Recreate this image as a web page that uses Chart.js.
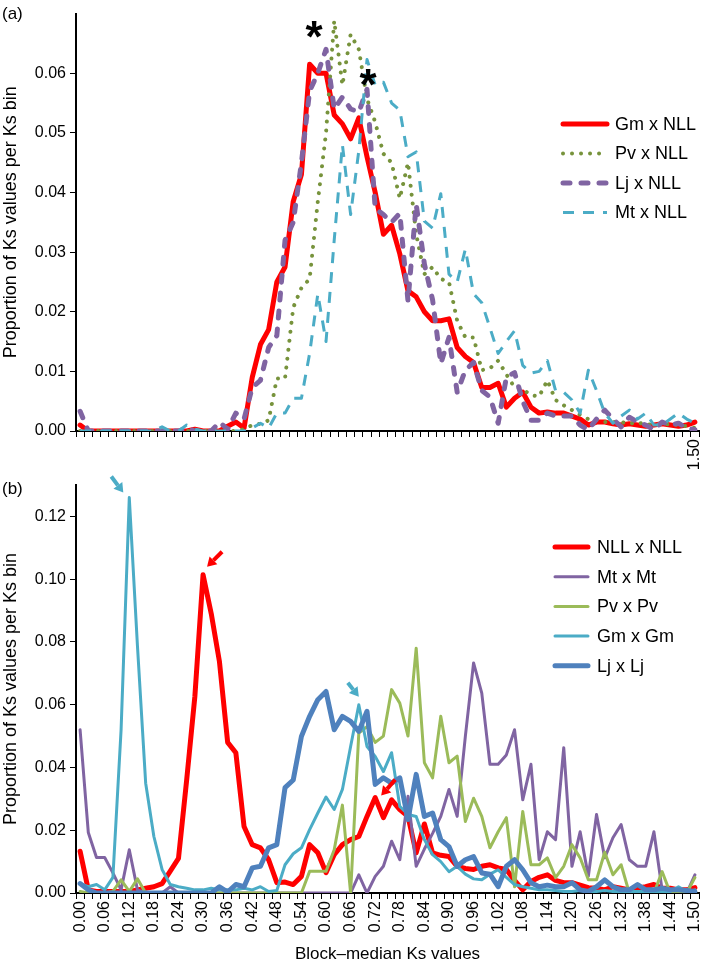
<!DOCTYPE html>
<html>
<head>
<meta charset="utf-8">
<title>Ks distributions</title>
<script src="https://cdn.jsdelivr.net/npm/chart.js@4.4.1/dist/chart.umd.min.js"></script>
<style>
  html, body { margin: 0; padding: 0; background: #fff; }
  #wrap { position: relative; width: 709px; height: 971px; }
  #boxA { position: absolute; left: 0; top: 0; width: 709px; height: 478px; }
  #boxB { position: absolute; left: 0; top: 470px; width: 709px; height: 501px; }
</style>
</head>
<body>
<div id="wrap">
  <div id="boxA"><canvas id="chartA"></canvas></div>
  <div id="boxB"><canvas id="chartB"></canvas></div>
</div>
<script>
// Ks bins (0.00 .. 1.50, step 0.02)
const bins = [
  "0.00","0.02","0.04","0.06","0.08","0.10","0.12","0.14","0.16","0.18",
  "0.20","0.22","0.24","0.26","0.28","0.30","0.32","0.34","0.36","0.38",
  "0.40","0.42","0.44","0.46","0.48","0.50","0.52","0.54","0.56","0.58",
  "0.60","0.62","0.64","0.66","0.68","0.70","0.72","0.74","0.76","0.78",
  "0.80","0.82","0.84","0.86","0.88","0.90","0.92","0.94","0.96","0.98",
  "1.00","1.02","1.04","1.06","1.08","1.10","1.12","1.14","1.16","1.18",
  "1.20","1.22","1.24","1.26","1.28","1.30","1.32","1.34","1.36","1.38",
  "1.40","1.42","1.44","1.46","1.48","1.50"
];

// panel (a): legume x NLL
const gmNLL = [
  0.001, 0, 0, 0, 0, 0, 0, 0, 0, 0,
  0, 0, 0, 0, 0.0003, 0, 0, 0, 0.0008, 0.0015,
  0.0005, 0.009, 0.0145, 0.017, 0.025, 0.0275, 0.0385, 0.043, 0.0615, 0.060,
  0.060, 0.053, 0.0515, 0.049, 0.0525, 0.046, 0.040, 0.033, 0.0345, 0.0297,
  0.0235, 0.0225, 0.020, 0.0185, 0.0185, 0.0188, 0.014, 0.0125, 0.0115, 0.0073,
  0.0073, 0.008, 0.004, 0.0055, 0.0065, 0.004, 0.003, 0.0032, 0.003, 0.003,
  0.0025, 0.002, 0.001, 0.0015, 0.0015, 0.0012, 0.001, 0.0012, 0.001, 0.0008,
  0.001, 0.0012, 0.001, 0.0008, 0.001, 0.0015
];
const pvNLL = [
  0, 0, 0, 0, 0, 0, 0, 0, 0, 0,
  0, 0, 0, 0, 0, 0, 0, 0, 0, 0,
  0.0003, 0.001, 0.0012, 0.0018, 0.0088, 0.0088, 0.0207, 0.024, 0.0255, 0.0385,
  0.050, 0.0688, 0.058, 0.0665, 0.064, 0.0557, 0.0518, 0.0465, 0.045, 0.039,
  0.045, 0.033, 0.0263, 0.0275, 0.0255, 0.025, 0.0185, 0.0157, 0.0157, 0.0102,
  0.0105, 0.0118, 0.0095, 0.0073, 0.007, 0.006, 0.0058, 0.0085, 0.0052, 0.0043,
  0.0035, 0.0027, 0.002, 0.0018, 0.0015, 0.0015, 0.0015, 0.0012, 0.0015, 0.001,
  0.0012, 0.001, 0.0012, 0.001, 0.0008, 0.0005
];
const ljNLL = [
  0.0033, 0, 0, 0, 0, 0, 0, 0, 0, 0,
  0, 0, 0, 0.0005, 0, 0, 0, 0.0015, 0.0003, 0.003,
  0.002, 0.0073, 0.0085, 0.014, 0.016, 0.032, 0.035, 0.045, 0.057, 0.060,
  0.064, 0.054, 0.056, 0.054, 0.0535, 0.0573, 0.0373, 0.0363, 0.035, 0.0365,
  0.0218, 0.038, 0.028, 0.022, 0.0113, 0.0157, 0.0065, 0.0102, 0.0115, 0.0068,
  0.0057, 0.0013, 0.009, 0.0098, 0.005, 0.0018, 0.0018, 0.003, 0.0025, 0.0025,
  0.0025, 0.001, 0.0002, 0.002, 0.0035, 0.002, 0.0007, 0.0023, 0.0015, 0.001,
  0.0002, 0.0015, 0.001, 0.0013, 0.0005, 0.0002
];
const mtNLL = [
  0, 0, 0, 0, 0, 0, 0, 0, 0, 0,
  0.0007, 0, 0, 0.001, 0.0003, 0, 0, 0, 0, 0,
  0, 0.0005, 0.0013, 0.0005, 0.003, 0.003, 0.0055, 0.0055, 0.013, 0.023,
  0.015, 0.032, 0.048, 0.0363, 0.047, 0.0623, 0.058, 0.0585, 0.055, 0.0538,
  0.046, 0.0468, 0.0352, 0.034, 0.0398, 0.0263, 0.025, 0.0305, 0.023, 0.0215,
  0.0173, 0.013, 0.015, 0.0168, 0.011, 0.0097, 0.010, 0.0118, 0.0068, 0.0065,
  0.0052, 0.003, 0.0102, 0.0068, 0.003, 0.0013, 0.0025, 0.0035, 0.002, 0.003,
  0.001, 0.001, 0.002, 0.003, 0.002, 0.0013
];

// panel (b): within-genome
const nllNLL = [
  0.0133, 0.001, 0.0005, 0.0005, 0.0005, 0.0005, 0.0005, 0.001, 0.0015, 0.002,
  0.003, 0.007, 0.011, 0.036, 0.0626, 0.1014, 0.089, 0.0737, 0.048, 0.0447,
  0.0212, 0.0154, 0.0144, 0.0106, 0.0033, 0.0035, 0.0027, 0.0053, 0.0154, 0.0128,
  0.0065, 0.0122, 0.0154, 0.017, 0.018, 0.0244, 0.0304, 0.024, 0.0297, 0.0266,
  0.0244, 0.0128, 0.022, 0.0128, 0.012, 0.0116, 0.0085, 0.0078, 0.0075, 0.0085,
  0.009, 0.008, 0.0075, 0.004, 0.001, 0.0037, 0.005, 0.0058, 0.004, 0.0033,
  0.0033, 0.0025, 0.0017, 0.0015, 0.001, 0.002, 0.0015, 0.001, 0.0015, 0.002,
  0.0027, 0.0015, 0.0015, 0.001, 0.001, 0.0017
];
const mtMt = [
  0.052, 0.0193, 0.0113, 0.0113, 0.0064, 0.001, 0.0138, 0.001, 0, 0,
  0, 0.002, 0, 0, 0, 0, 0, 0, 0, 0,
  0, 0, 0, 0, 0, 0, 0, 0, 0, 0,
  0, 0, 0, 0, 0.0058, 0, 0.0053, 0.0085, 0.0165, 0.0106,
  0.0308, 0.0085, 0.014, 0.019, 0.0244, 0.033, 0.0244, 0.05, 0.0733, 0.0637,
  0.041, 0.041, 0.044, 0.052, 0.0297, 0.041, 0.0106, 0.0195, 0.017, 0.0463,
  0.0085, 0.0195, 0.0053, 0.025, 0.0112, 0.0176, 0.0218, 0.0106, 0.0085, 0.0085,
  0.0195, 0.001, 0, 0, 0, 0.0058
];
const pvPv = [
  0.0005, 0, 0, 0, 0.0005, 0.0042, 0.0005, 0.0045, 0, 0,
  0, 0, 0, 0, 0, 0, 0, 0, 0, 0,
  0, 0, 0, 0, 0, 0, 0, 0, 0.0069, 0.0069,
  0.0069, 0.0138, 0.028, 0, 0.051, 0.053, 0.048, 0.050, 0.0648, 0.0605,
  0.050, 0.078, 0.0415, 0.0367, 0.0563, 0.0415, 0.0436, 0.0228, 0.0302, 0.0244,
  0.0144, 0.0195, 0.024, 0.002, 0.026, 0.009, 0.009, 0.0112, 0.0049, 0.0085,
  0.0154, 0.0112, 0.0042, 0.0042, 0.013, 0.0058, 0.009, 0, 0.0005, 0,
  0, 0.0068, 0, 0, 0, 0.0049
];
const gmGm = [
  0.003, 0.002, 0.0027, 0.001, 0.005, 0.052, 0.126, 0.0786, 0.035, 0.018,
  0.0075, 0.0027, 0.002, 0.0015, 0.001, 0.001, 0.0015, 0.001, 0.001, 0.001,
  0.0015, 0.001, 0.002, 0.0005, 0.0008, 0.009, 0.0125, 0.0144, 0.0202, 0.0255,
  0.0306, 0.0266, 0.033, 0.0467, 0.060, 0.0467, 0.0435, 0.0387, 0.0447, 0.0276,
  0.025, 0.0244, 0.017, 0.0122, 0.010, 0.0068, 0.0085, 0.006, 0.0045, 0.0042,
  0.006, 0.0074, 0.005, 0.0027, 0.002, 0.0015, 0.001, 0.001, 0.0008, 0.0005,
  0.0005, 0.0008, 0.0005, 0.0005, 0.0008, 0.0005, 0.0005, 0.0005, 0.0005, 0.0005,
  0.0005, 0.0005, 0.0005, 0.002, 0.0005, 0.001
];
const ljLj = [
  0.003, 0.001, 0, 0, 0, 0, 0, 0, 0, 0,
  0, 0, 0, 0, 0, 0, 0, 0.002, 0.0003, 0.0027,
  0.002, 0.008, 0.0085, 0.0144, 0.0154, 0.0336, 0.036, 0.0499, 0.0563, 0.0616,
  0.0642, 0.052, 0.0563, 0.0547, 0.0515, 0.0579, 0.0346, 0.0367, 0.035, 0.0367,
  0.0234, 0.0378, 0.0244, 0.0255, 0.017, 0.0148, 0.0085, 0.0106, 0.0116, 0.0064,
  0.006, 0.002, 0.0085, 0.0106, 0.0074, 0.0033, 0.002, 0.0025, 0.002, 0.002,
  0.0033, 0.001, 0.0005, 0.002, 0.0042, 0.002, 0.001, 0.001, 0.0027, 0.001,
  0.001, 0.0015, 0.001, 0.001, 0.0008, 0.0005
];

const FONT = '"Liberation Sans", Arial, Helvetica, sans-serif';
Chart.defaults.font.family = FONT;
Chart.defaults.color = "#000";

/**
 * Legend drawn beside the lines, using each dataset's own stroke style
 */
const sideLegend = {
    id: "sideLegend",
    afterDraw(chart, args, opts) {
        const ctx = chart.ctx;
        ctx.save();
        chart.data.datasets.forEach((ds, k) => {
            const y = opts.top + k * opts.gap;
            ctx.beginPath();
            ctx.strokeStyle = ds.borderColor;
            ctx.lineWidth = ds.borderWidth;
            ctx.lineCap = ds.borderCapStyle || "butt";
            ctx.setLineDash(ds.borderDash || []);
            ctx.moveTo(opts.left, y);
            ctx.lineTo(opts.left + opts.lineLen, y);
            ctx.stroke();
            ctx.setLineDash([]);
            ctx.fillStyle = "#000";
            ctx.font = "18px " + FONT;
            ctx.textBaseline = "middle";
            ctx.fillText(ds.label, opts.left + opts.lineLen + opts.textGap, y + 1);
        });
        ctx.restore();
    }
};

/**
 * Panel letter, asterisks and arrows, anchored to data points
 */
function drawArrow(ctx, x1, y1, x2, y2, color) {
    const ang = Math.atan2(y2 - y1, x2 - x1);
    const head = 9, half = 5.5;
    const bx = x2 - head * Math.cos(ang), by = y2 - head * Math.sin(ang);
    ctx.strokeStyle = color;
    ctx.lineWidth = 4;
    ctx.beginPath();
    ctx.moveTo(x1, y1);
    ctx.lineTo(bx, by);
    ctx.stroke();
    ctx.fillStyle = color;
    ctx.beginPath();
    ctx.moveTo(x2, y2);
    ctx.lineTo(bx + half * Math.sin(ang), by - half * Math.cos(ang));
    ctx.lineTo(bx - half * Math.sin(ang), by + half * Math.cos(ang));
    ctx.closePath();
    ctx.fill();
}

const marks = {
    id: "marks",
    afterDraw(chart, args, opts) {
        const ctx = chart.ctx;
        ctx.save();
        ctx.fillStyle = "#000";
        ctx.font = "17px " + FONT;
        ctx.textBaseline = "middle";
        ctx.fillText(opts.panel, 2, opts.panelY);
        (opts.stars || []).forEach(s => {
            const p = chart.getDatasetMeta(s.ds).data[s.i];
            ctx.font = "bold 44px " + FONT;
            ctx.textAlign = "center";
            ctx.textBaseline = "alphabetic";
            ctx.fillText("*", p.x + s.dx, p.y + s.dy);
        });
        (opts.arrows || []).forEach(a => {
            const p = chart.getDatasetMeta(a.ds).data[a.i];
            const color = chart.data.datasets[a.ds].borderColor;
            drawArrow(ctx, p.x + a.tail[0], p.y + a.tail[1], p.x + a.tip[0], p.y + a.tip[1], color);
        });
        ctx.restore();
    }
};

function xAxis(height, showLabel) {
    return {
        type: "category",
        offset: true,
        grid: { display: true, offset: true, drawOnChartArea: false, drawTicks: true, tickLength: 6, color: "#000", lineWidth: 1 },
        border: { display: true, color: "#000", width: 2 },
        ticks: {
            autoSkip: false, minRotation: 90, maxRotation: 90, padding: 2,
            font: { size: 16 }, color: "#000",
            callback: function (v, i) { return showLabel(i) ? bins[i] : ""; }
        },
        afterFit: function (s) {
            s.height = height;
            s.paddingLeft = 0;
            s.paddingRight = 0;
        }
    };
}

function yAxis(max, step) {
    return {
        min: 0, max: max,
        grid: { display: true, drawOnChartArea: false, drawTicks: true, tickLength: 6, color: "#000", lineWidth: 1 },
        border: { display: true, color: "#000", width: 2 },
        ticks: { stepSize: step, padding: 4, font: { size: 16 }, color: "#000", callback: v => v.toFixed(2) },
        title: { display: true, text: "Proportion of Ks values per Ks bin", font: { size: 18 }, padding: 0, color: "#000" },
        afterBuildTicks: function (s) { s.ticks = s.ticks.filter(t => t.value < max - step / 4); },
        afterFit: function (s) { s.width = 76; }
    };
}

function line(label, data, color, width, dash, cap, order) {
    return {
        label: label, data: data, borderColor: color, backgroundColor: color,
        borderWidth: width, borderDash: dash, borderCapStyle: cap, borderJoinStyle: "round",
        pointRadius: 0, tension: 0, fill: false, order: order
    };
}

function renderTop() {
    new Chart(document.getElementById("chartA"), {
        type: "line",
        data: {
            labels: bins,
            datasets: [
                line("Gm x NLL", gmNLL, "#FF0000", 5, [], "round", 4),
                line("Pv x NLL", pvNLL, "#77933C", 4, [0.01, 9], "round", 3),
                line("Lj x NLL", ljNLL, "#8064A2", 5, [7, 11], "round", 2),
                line("Mt x NLL", mtNLL, "#4BACC6", 3, [11, 9], "butt", 1)
            ]
        },
        options: {
            responsive: true, maintainAspectRatio: false, animation: false,
            layout: { padding: { left: 0, top: 11, right: 10, bottom: 0 } },
            scales: {
                x: xAxis(47, i => i === bins.length - 1),
                y: yAxis(0.07, 0.01)
            },
            plugins: {
                legend: { display: false },
                tooltip: { enabled: false },
                sideLegend: { left: 563, top: 124, gap: 29.5, lineLen: 44, textGap: 8 },
                marks: {
                    panel: "(a)", panelY: 14,
                    stars: [ { ds: 2, i: 30, dx: -12, dy: 3 }, { ds: 2, i: 35, dx: 1, dy: 11 } ]
                }
            }
        },
        plugins: [sideLegend, marks]
    });
}

function renderBottom() {
    const xb = xAxis(78, i => i % 3 === 0);
    xb.title = { display: true, text: "Block\u2013median Ks values", font: { size: 17 }, padding: { top: 4, bottom: 6 }, color: "#000" };
    new Chart(document.getElementById("chartB"), {
        type: "line",
        data: {
            labels: bins,
            datasets: [
                line("NLL x NLL", nllNLL, "#FF0000", 5, [], "round", 5),
                line("Mt x Mt", mtMt, "#8064A2", 3, [], "round", 4),
                line("Pv x Pv", pvPv, "#9BBB59", 3, [], "round", 3),
                line("Gm x Gm", gmGm, "#4BACC6", 3, [], "round", 2),
                line("Lj x Lj", ljLj, "#4F81BD", 5, [], "round", 1)
            ]
        },
        options: {
            responsive: true, maintainAspectRatio: false, animation: false,
            layout: { padding: { left: 0, top: 15, right: 10, bottom: 0 } },
            scales: {
                x: xb,
                y: yAxis(0.13, 0.02)
            },
            plugins: {
                legend: { display: false },
                tooltip: { enabled: false },
                sideLegend: { left: 555, top: 77, gap: 29.7, lineLen: 33, textGap: 9 },
                marks: {
                    panel: "(b)", panelY: 19,
                    arrows: [
                        { ds: 3, i: 6, tip: [-6, -5], tail: [-18, -21] },
                        { ds: 0, i: 15, tip: [4, -8], tail: [19, -23] },
                        { ds: 3, i: 34, tip: [0, -8], tail: [-11, -22] },
                        { ds: 0, i: 36, tip: [6, -2], tail: [20, -18] }
                    ]
                }
            }
        },
        plugins: [sideLegend, marks]
    });
}

document.addEventListener("DOMContentLoaded", function () {
    renderTop();
    renderBottom();
});
</script>
</body>
</html>
